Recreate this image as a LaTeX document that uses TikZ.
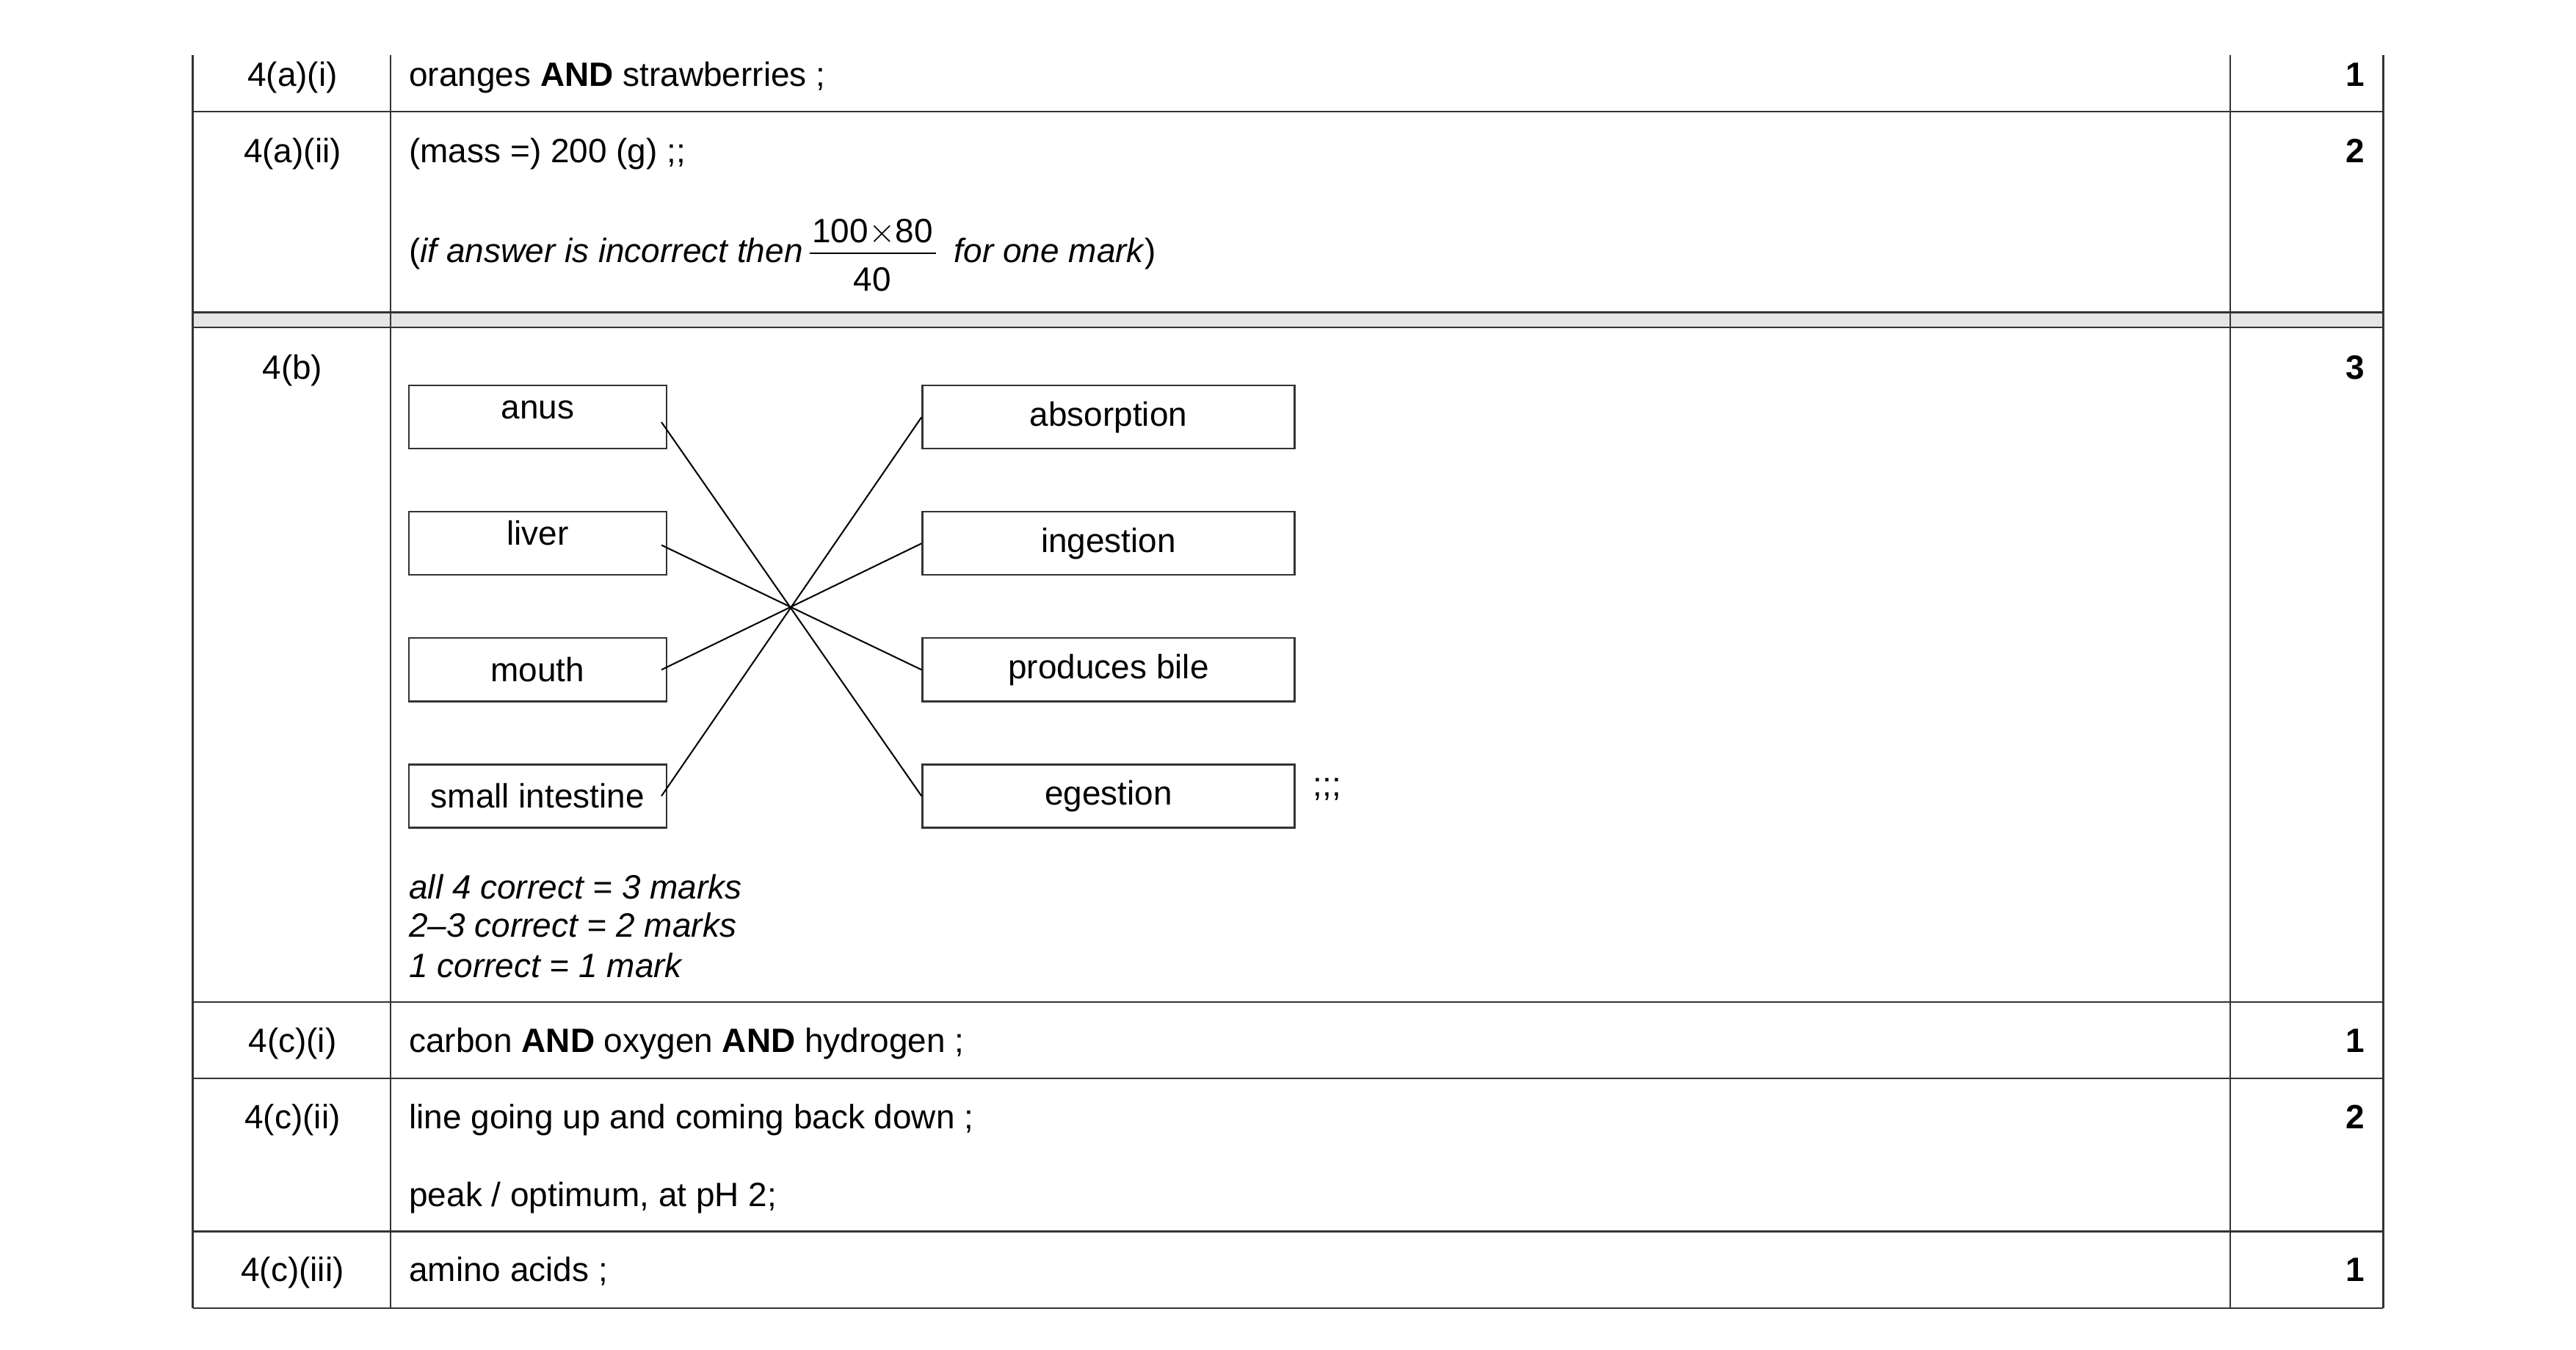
\documentclass[tikz,border=0pt]{standalone}
\usepackage{fontspec}
\setmainfont{Liberation Sans}
\begin{document}
\begin{tikzpicture}[x=1pt,y=-1pt,
  tl/.style={draw=black!80,line width=1pt},
  txt/.style={font=\fontsize{20.3}{23}\selectfont,anchor=base west,inner sep=0},
  num/.style={font=\fontsize{20.3}{23}\selectfont,anchor=base,inner sep=0},
  mk/.style={font=\fontsize{20.3}{23}\selectfont\bfseries,anchor=base east,inner sep=0},
  bx/.style={draw=black!80,line width=1pt,minimum height=38pt,inner sep=0,font=\fontsize{20.3}{23}\selectfont},
  ln/.style={line width=0.9pt}]
\useasboundingbox (0,0) rectangle (1550,812);
% grey band
\fill[black!10] (116,188) rectangle (1434,197);
% verticals
\foreach \x in {116,235,1342,1434} \draw[tl] (\x,33) -- (\x,787);
% horizontals
\foreach \y in {67,188,197,603,649,741,787} \draw[tl] (116,\y) -- (1434,\y);
% row labels
\node[num] (r1) at (176,52) {4(a)(i)};
\node[num] (r2) at (176,98) {4(a)(ii)};
\node[num] (r3) at (176,228) {4(b)};
\node[num] (r4) at (176,633) {4(c)(i)};
\node[num] (r5) at (176,679) {4(c)(ii)};
\node[num] (r6) at (176,771) {4(c)(iii)};
% marks
\node[mk] (m1) at (1423,52) {1};
\node[mk] (m2) at (1423,98) {2};
\node[mk] (m3) at (1423,228) {3};
\node[mk] (m4) at (1423,633) {1};
\node[mk] (m5) at (1423,679) {2};
\node[mk] (m6) at (1423,771) {1};
% texts
\node[txt] (t1) at (246,52) {oranges \textbf{AND} strawberries ;};
\node[txt] (t2) at (246,98) {(mass =) 200 (g) ;;};
\node[txt] (t3) at (246,158) {(\textit{if answer is incorrect then}};
\node[num] (f1) at (525,146) {100$\times$80};
\node[num] (f2) at (525,175) {40};
\draw[line width=0.8pt] (487,152.5) -- (563,152.5);
\node[txt] (t4) at (574,158) {\textit{for one mark})};
\node[txt] (t5) at (246,541) {\textit{all 4 correct = 3 marks}};
\node[txt] (t6) at (246,564) {\textit{2--3 correct = 2 marks}};
\node[txt] (t7) at (246,588) {\textit{1 correct = 1 mark}};
\node[txt] (t8) at (246,633) {carbon \textbf{AND} oxygen \textbf{AND} hydrogen ;};
\node[txt] (t9) at (246,679) {line going up and coming back down ;};
\node[txt] (t10) at (246,726) {peak / optimum, at pH 2;};
\node[txt] (t11) at (246,771) {amino acids ;};
% boxes
\node[bx,minimum width=155pt] (anus) at (323.5,251) {};
\node[num] at (323.5,252) {anus};
\node[bx,minimum width=155pt] (liver) at (323.5,327) {};
\node[num] at (323.5,328) {liver};
\node[bx,minimum width=155pt] (mouth) at (323.5,403) {mouth};
\node[bx,minimum width=155pt] (si) at (323.5,479) {small intestine};
\node[bx,minimum width=224pt] (abs) at (667,251) {absorption};
\node[bx,minimum width=224pt] (ing) at (667,327) {ingestion};
\node[bx,minimum width=224pt] (bile) at (667,403) {produces bile};
\node[bx,minimum width=224pt] (eg) at (667,479) {egestion};
\node[txt] (semi) at (790,479) {;;;};
% connectors
\coordinate (a1) at (398,254); \coordinate (l1) at (398,328);
\coordinate (mo1) at (398,403); \coordinate (s1) at (398,479);
\draw[ln] (a1) -- (eg.west);
\draw[ln] (l1) -- (bile.west);
\draw[ln] (mo1) -- (ing.west);
\draw[ln] (s1) -- (abs.west);
\end{tikzpicture}
\end{document}
